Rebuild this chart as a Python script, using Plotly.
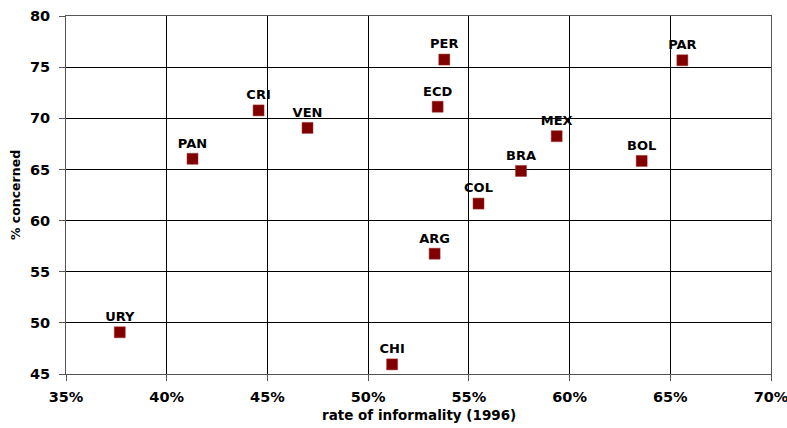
import plotly.graph_objects as go

countries = ["URY", "PAN", "CRI", "VEN", "CHI", "ARG", "ECD", "PER", "COL", "BRA", "MEX", "BOL", "PAR"]
informality = [37.67, 41.28, 44.56, 46.99, 51.19, 53.30, 53.45, 53.78, 55.48, 57.59, 59.36, 63.58, 65.60]
concerned = [49.08, 66.04, 70.77, 69.06, 45.94, 56.76, 71.13, 75.74, 61.66, 64.85, 68.25, 65.83, 75.67]

x_ticks = [35, 40, 45, 50, 55, 60, 65, 70]
x_tick_labels = ["35%", "40%", "45%", "50%", "55%", "60%", "65%", "70%"]
y_ticks = [45, 50, 55, 60, 65, 70, 75, 80]
x_title = "rate of informality (1996)"
y_title = "% concerned"

FONT = "DejaVu Sans, Verdana, sans-serif"
BOLD = dict(family=FONT, weight="bold", color="black")

fig = go.Figure()
fig.add_trace(go.Scatter(
    x=informality, y=concerned, mode="markers+text",
    text=countries, textposition="top center",
    textfont=dict(**BOLD, size=13),
    marker=dict(symbol="square", size=11, color="#800000",
                line=dict(color="#a03030", width=0.5)),
    showlegend=False, cliponaxis=False,
))

fig.update_layout(
    width=787, height=428,
    margin=dict(l=66, r=16, t=16, b=54),
    paper_bgcolor="white", plot_bgcolor="white",
    font=dict(family=FONT, size=14, color="black"),
)
fig.add_annotation(
    text=x_title, xref="paper", yref="paper", x=0.5, y=0,
    xanchor="center", yanchor="middle", yshift=-41, showarrow=False,
    font=dict(**BOLD, size=13.5),
)
fig.update_xaxes(
    range=[35, 70], tickvals=x_ticks, ticktext=x_tick_labels,
    showgrid=True, gridcolor="black", gridwidth=1,
    showline=True, linecolor="#555555", linewidth=1, mirror=True,
    ticks="outside", ticklen=6, tickcolor="#555555",
    tickfont=dict(**BOLD, size=14.5),
    ticklabelstandoff=4, ticklabeloverflow="allow",
    zeroline=False, automargin=False,
)
fig.update_yaxes(
    range=[45, 80], tickvals=y_ticks,
    showgrid=True, gridcolor="black", gridwidth=1,
    showline=True, linecolor="#555555", linewidth=1, mirror=True,
    ticks="outside", ticklen=6, tickcolor="#555555",
    tickfont=dict(**BOLD, size=14.5),
    ticklabelstandoff=6, ticklabeloverflow="allow",
    title=dict(text=y_title, font=dict(**BOLD, size=12.5), standoff=6),
    zeroline=False, automargin=False,
)

fig.write_html("out.html", config={"displayModeBar": False},
               post_script="document.body.style.margin='0';")
